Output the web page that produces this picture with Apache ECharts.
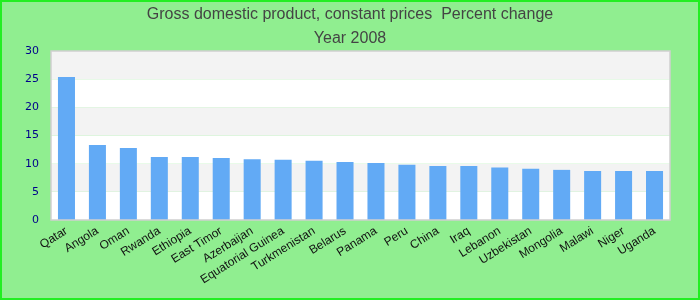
<!DOCTYPE html>
<html><head><meta charset="utf-8">
<script src="https://cdn.jsdelivr.net/npm/echarts@6/dist/echarts.min.js"></script>
<style>html,body{margin:0;padding:0;background:#90ee90}#c{width:700px;height:300px}</style>
</head><body><div id="c"></div>
<script>
const categories = ["Qatar","Angola","Oman","Rwanda","Ethiopia","East Timor","Azerbaijan","Equatorial Guinea","Turkmenistan","Belarus","Panama","Peru","China","Iraq","Lebanon","Uzbekistan","Mongolia","Malawi","Niger","Uganda"];
const values = [25.4,13.3,12.8,11.2,11.2,11.0,10.8,10.7,10.5,10.3,10.1,9.8,9.6,9.6,9.3,9.1,8.9,8.7,8.7,8.7];
const yTicks = [0,5,10,15,20,25,30];

const G = { left: 51, right: 30, top: 51, bottom: 80 };
const chart = echarts.init(document.getElementById('c'));
chart.setOption({
  backgroundColor: '#90ee90',
  animation: false,
  title: {
    text: 'Gross domestic product, constant prices  Percent change\nYear 2008',
    left: 'center', top: -2,
    textStyle: { color: '#444', fontSize: 16, fontWeight: 'normal', fontFamily: 'Liberation Sans, Arial, sans-serif', lineHeight: 24 }
  },
  graphic: [
    { type: 'rect', z: 100, shape: { x: 1, y: 1, width: 698, height: 298 }, style: { fill: null, stroke: '#22ee22', lineWidth: 2 } },
    { type: 'rect', z: 100, shape: { x: G.left, y: G.top, width: 700 - G.left - G.right, height: 300 - G.top - G.bottom }, style: { fill: null, stroke: '#d0d0d0', lineWidth: 1.5 } }
  ],
  grid: { left: G.left, right: G.right, top: G.top, bottom: G.bottom },
  xAxis: {
    type: 'category', data: categories,
    axisLine: { show: false }, axisTick: { show: false },
    axisLabel: { rotate: 32, interval: 0, color: '#111', fontSize: 12, fontFamily: 'Liberation Sans, Arial, sans-serif', margin: 10 }
  },
  yAxis: {
    type: 'value', min: yTicks[0], max: yTicks[yTicks.length - 1], interval: 5,
    axisLine: { show: false }, axisTick: { show: false }, splitLine: { show: false },
    splitArea: { show: true, areaStyle: { color: ['#ffffff', '#f3f3f3'] } },
    axisLabel: { color: '#00008b', fontSize: 11, fontFamily: 'DejaVu Sans, sans-serif', margin: 12 }
  },
  series: [{ type: 'bar', data: values, barWidth: '55%', itemStyle: { color: '#62aaf5' } }]
});
</script></body></html>
